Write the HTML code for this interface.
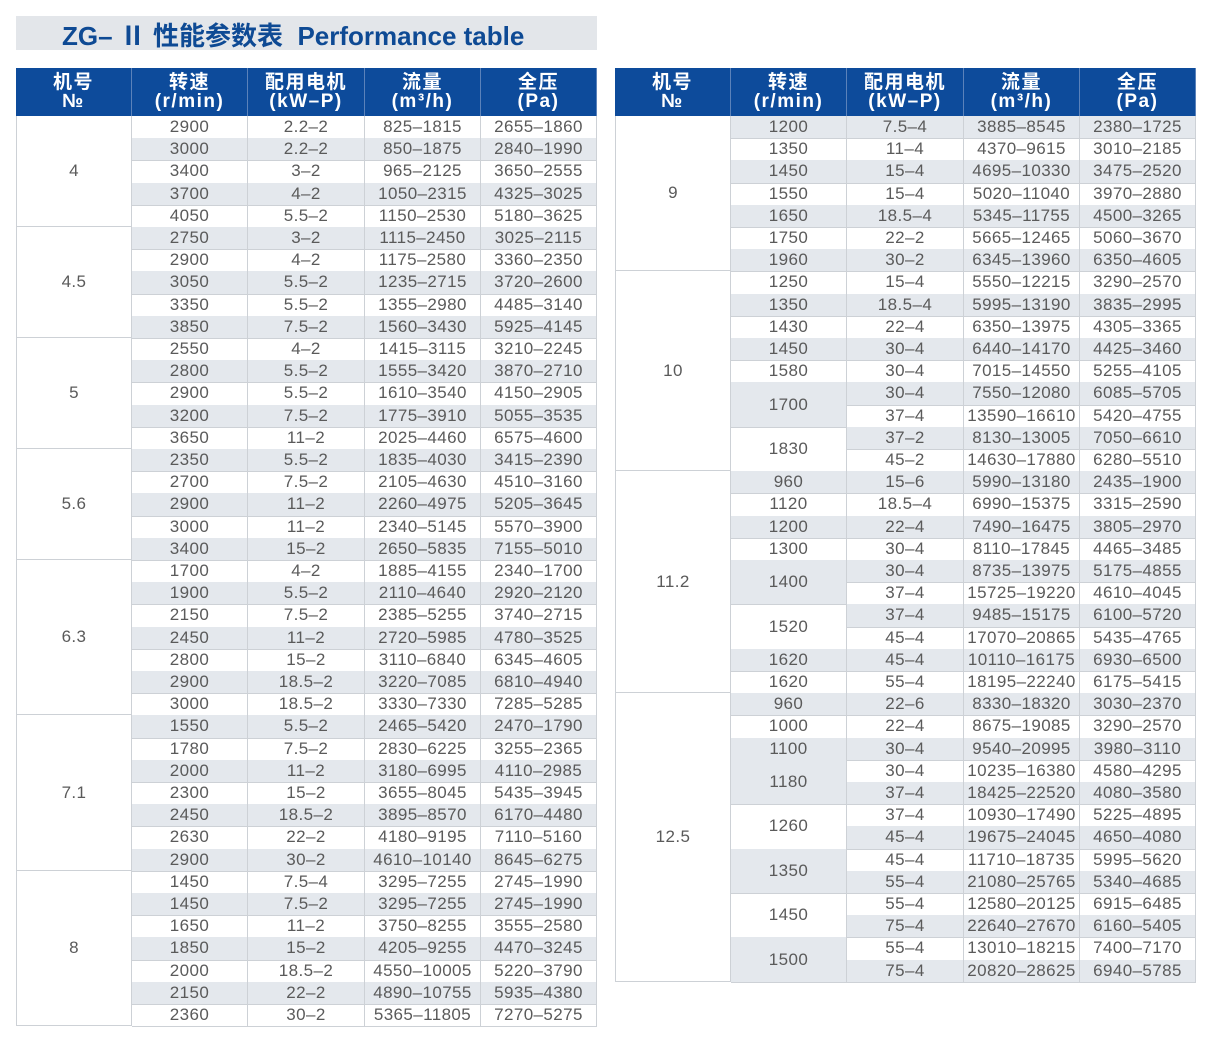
<!DOCTYPE html>
<html><head><meta charset="utf-8"><style>
body{margin:0;background:#fff;width:1211px;height:1060px;position:relative;overflow:hidden;font-family:"Liberation Sans","Noto Sans CJK SC",sans-serif}
.t{position:absolute;left:16px;top:16px;width:581px;height:34px;background:#e3e6ea}
.t span{position:absolute;left:46px;top:0px;font-size:26px;font-weight:bold;color:#0e4a94;white-space:nowrap}
.c{position:absolute;box-sizing:border-box;border-right:1px solid #cdd1d6;border-bottom:1px solid #cdd1d6;display:flex;align-items:center;justify-content:center;font-size:17px;letter-spacing:0.4px;color:#5a5a5a;white-space:nowrap}
.g{background:#e4e8ed}
.h{position:absolute;background:#0d4b9b;color:#fff;font-weight:bold;font-size:19px;letter-spacing:1.5px;line-height:19px;text-align:center;display:flex;flex-direction:column;justify-content:center;box-sizing:border-box;border-right:1px solid #5b82ba}
</style></head><body>
<div class="t"><span>ZG– Ⅱ 性能参数表&nbsp; Performance table</span></div>
<div id="root"></div>
<script>
const L=[["4",[["2900","2.2–2","825–1815","2655–1860"],["3000","2.2–2","850–1875","2840–1990"],["3400","3–2","965–2125","3650–2555"],["3700","4–2","1050–2315","4325–3025"],["4050","5.5–2","1150–2530","5180–3625"]]],
["4.5",[["2750","3–2","1115–2450","3025–2115"],["2900","4–2","1175–2580","3360–2350"],["3050","5.5–2","1235–2715","3720–2600"],["3350","5.5–2","1355–2980","4485–3140"],["3850","7.5–2","1560–3430","5925–4145"]]],
["5",[["2550","4–2","1415–3115","3210–2245"],["2800","5.5–2","1555–3420","3870–2710"],["2900","5.5–2","1610–3540","4150–2905"],["3200","7.5–2","1775–3910","5055–3535"],["3650","11–2","2025–4460","6575–4600"]]],
["5.6",[["2350","5.5–2","1835–4030","3415–2390"],["2700","7.5–2","2105–4630","4510–3160"],["2900","11–2","2260–4975","5205–3645"],["3000","11–2","2340–5145","5570–3900"],["3400","15–2","2650–5835","7155–5010"]]],
["6.3",[["1700","4–2","1885–4155","2340–1700"],["1900","5.5–2","2110–4640","2920–2120"],["2150","7.5–2","2385–5255","3740–2715"],["2450","11–2","2720–5985","4780–3525"],["2800","15–2","3110–6840","6345–4605"],["2900","18.5–2","3220–7085","6810–4940"],["3000","18.5–2","3330–7330","7285–5285"]]],
["7.1",[["1550","5.5–2","2465–5420","2470–1790"],["1780","7.5–2","2830–6225","3255–2365"],["2000","11–2","3180–6995","4110–2985"],["2300","15–2","3655–8045","5435–3945"],["2450","18.5–2","3895–8570","6170–4480"],["2630","22–2","4180–9195","7110–5160"],["2900","30–2","4610–10140","8645–6275"]]],
["8",[["1450","7.5–4","3295–7255","2745–1990"],["1450","7.5–2","3295–7255","2745–1990"],["1650","11–2","3750–8255","3555–2580"],["1850","15–2","4205–9255","4470–3245"],["2000","18.5–2","4550–10005","5220–3790"],["2150","22–2","4890–10755","5935–4380"],["2360","30–2","5365–11805","7270–5275"]]]];
const R=[["9",[["1200",[["7.5–4","3885–8545","2380–1725"]]],["1350",[["11–4","4370–9615","3010–2185"]]],["1450",[["15–4","4695–10330","3475–2520"]]],["1550",[["15–4","5020–11040","3970–2880"]]],["1650",[["18.5–4","5345–11755","4500–3265"]]],["1750",[["22–2","5665–12465","5060–3670"]]],["1960",[["30–2","6345–13960","6350–4605"]]]]],
["10",[["1250",[["15–4","5550–12215","3290–2570"]]],["1350",[["18.5–4","5995–13190","3835–2995"]]],["1430",[["22–4","6350–13975","4305–3365"]]],["1450",[["30–4","6440–14170","4425–3460"]]],["1580",[["30–4","7015–14550","5255–4105"]]],["1700",[["30–4","7550–12080","6085–5705"],["37–4","13590–16610","5420–4755"]]],["1830",[["37–2","8130–13005","7050–6610"],["45–2","14630–17880","6280–5510"]]]]],
["11.2",[["960",[["15–6","5990–13180","2435–1900"]]],["1120",[["18.5–4","6990–15375","3315–2590"]]],["1200",[["22–4","7490–16475","3805–2970"]]],["1300",[["30–4","8110–17845","4465–3485"]]],["1400",[["30–4","8735–13975","5175–4855"],["37–4","15725–19220","4610–4045"]]],["1520",[["37–4","9485–15175","6100–5720"],["45–4","17070–20865","5435–4765"]]],["1620",[["45–4","10110–16175","6930–6500"]]],["1620",[["55–4","18195–22240","6175–5415"]]]]],
["12.5",[["960",[["22–6","8330–18320","3030–2370"]]],["1000",[["22–4","8675–19085","3290–2570"]]],["1100",[["30–4","9540–20995","3980–3110"]]],["1180",[["30–4","10235–16380","4580–4295"],["37–4","18425–22520","4080–3580"]]],["1260",[["37–4","10930–17490","5225–4895"],["45–4","19675–24045","4650–4080"]]],["1350",[["45–4","11710–18735","5995–5620"],["55–4","21080–25765","5340–4685"]]],["1450",[["55–4","12580–20125","6915–6485"],["75–4","22640–27670","6160–5405"]]],["1500",[["55–4","13010–18215","7400–7170"],["75–4","20820–28625","6940–5785"]]]]]];
const H=[["机号","№"],["转速","(r/min)"],["配用电机","(kW–P)"],["流量","(m³/h)"],["全压","(Pa)"]];
const RH=22.2,T0=116;let o="";
function cell(x,y,w,h,t,g,bl){o+=`<div class="c${g?' g':''}" style="left:${x}px;top:${y}px;width:${w}px;height:${h}px;${bl?'border-left:1px solid #cdd1d6;':''}">${t}</div>`}
function head(x0){const cs=[0,116,232,349,465,581];for(let i=0;i<5;i++)o+=`<div class="h" style="left:${x0+cs[i]}px;top:68px;width:${cs[i+1]-cs[i]}px;height:48px"><div>${H[i][0]}</div><div>${H[i][1]}</div></div>`;return cs}
let cs=head(16),x0=16,r=0;
for(const [n,rows] of L){const y=T0+r*RH;cell(x0,y,116,rows.length*RH,n,0,1);
rows.forEach((row,i)=>{const yy=T0+(r+i)*RH,g=(r+i)%2==1;for(let k=0;k<4;k++)cell(x0+cs[k+1],yy,cs[k+2]-cs[k+1],RH+1,row[k],g)});r+=rows.length}
cs=head(615);x0=615;r=0;let m=0;
for(const [n,sp] of R){let cnt=0;sp.forEach(s=>cnt+=s[1].length);cell(x0,T0+r*RH,116,cnt*RH,n,0,1);
for(const [rpm,sub] of sp){let g;if(sub.length>1){g=m%2==0;m++}else g=r%2==0;
cell(x0+116,T0+r*RH,116,sub.length*RH+1,rpm,g);
sub.forEach(s=>{const gg=r%2==0;for(let k=0;k<3;k++)cell(x0+cs[k+2],T0+r*RH,cs[k+3]-cs[k+2],RH+1,s[k],gg);r++})}}
document.getElementById("root").innerHTML=o;
</script>
</body></html>
